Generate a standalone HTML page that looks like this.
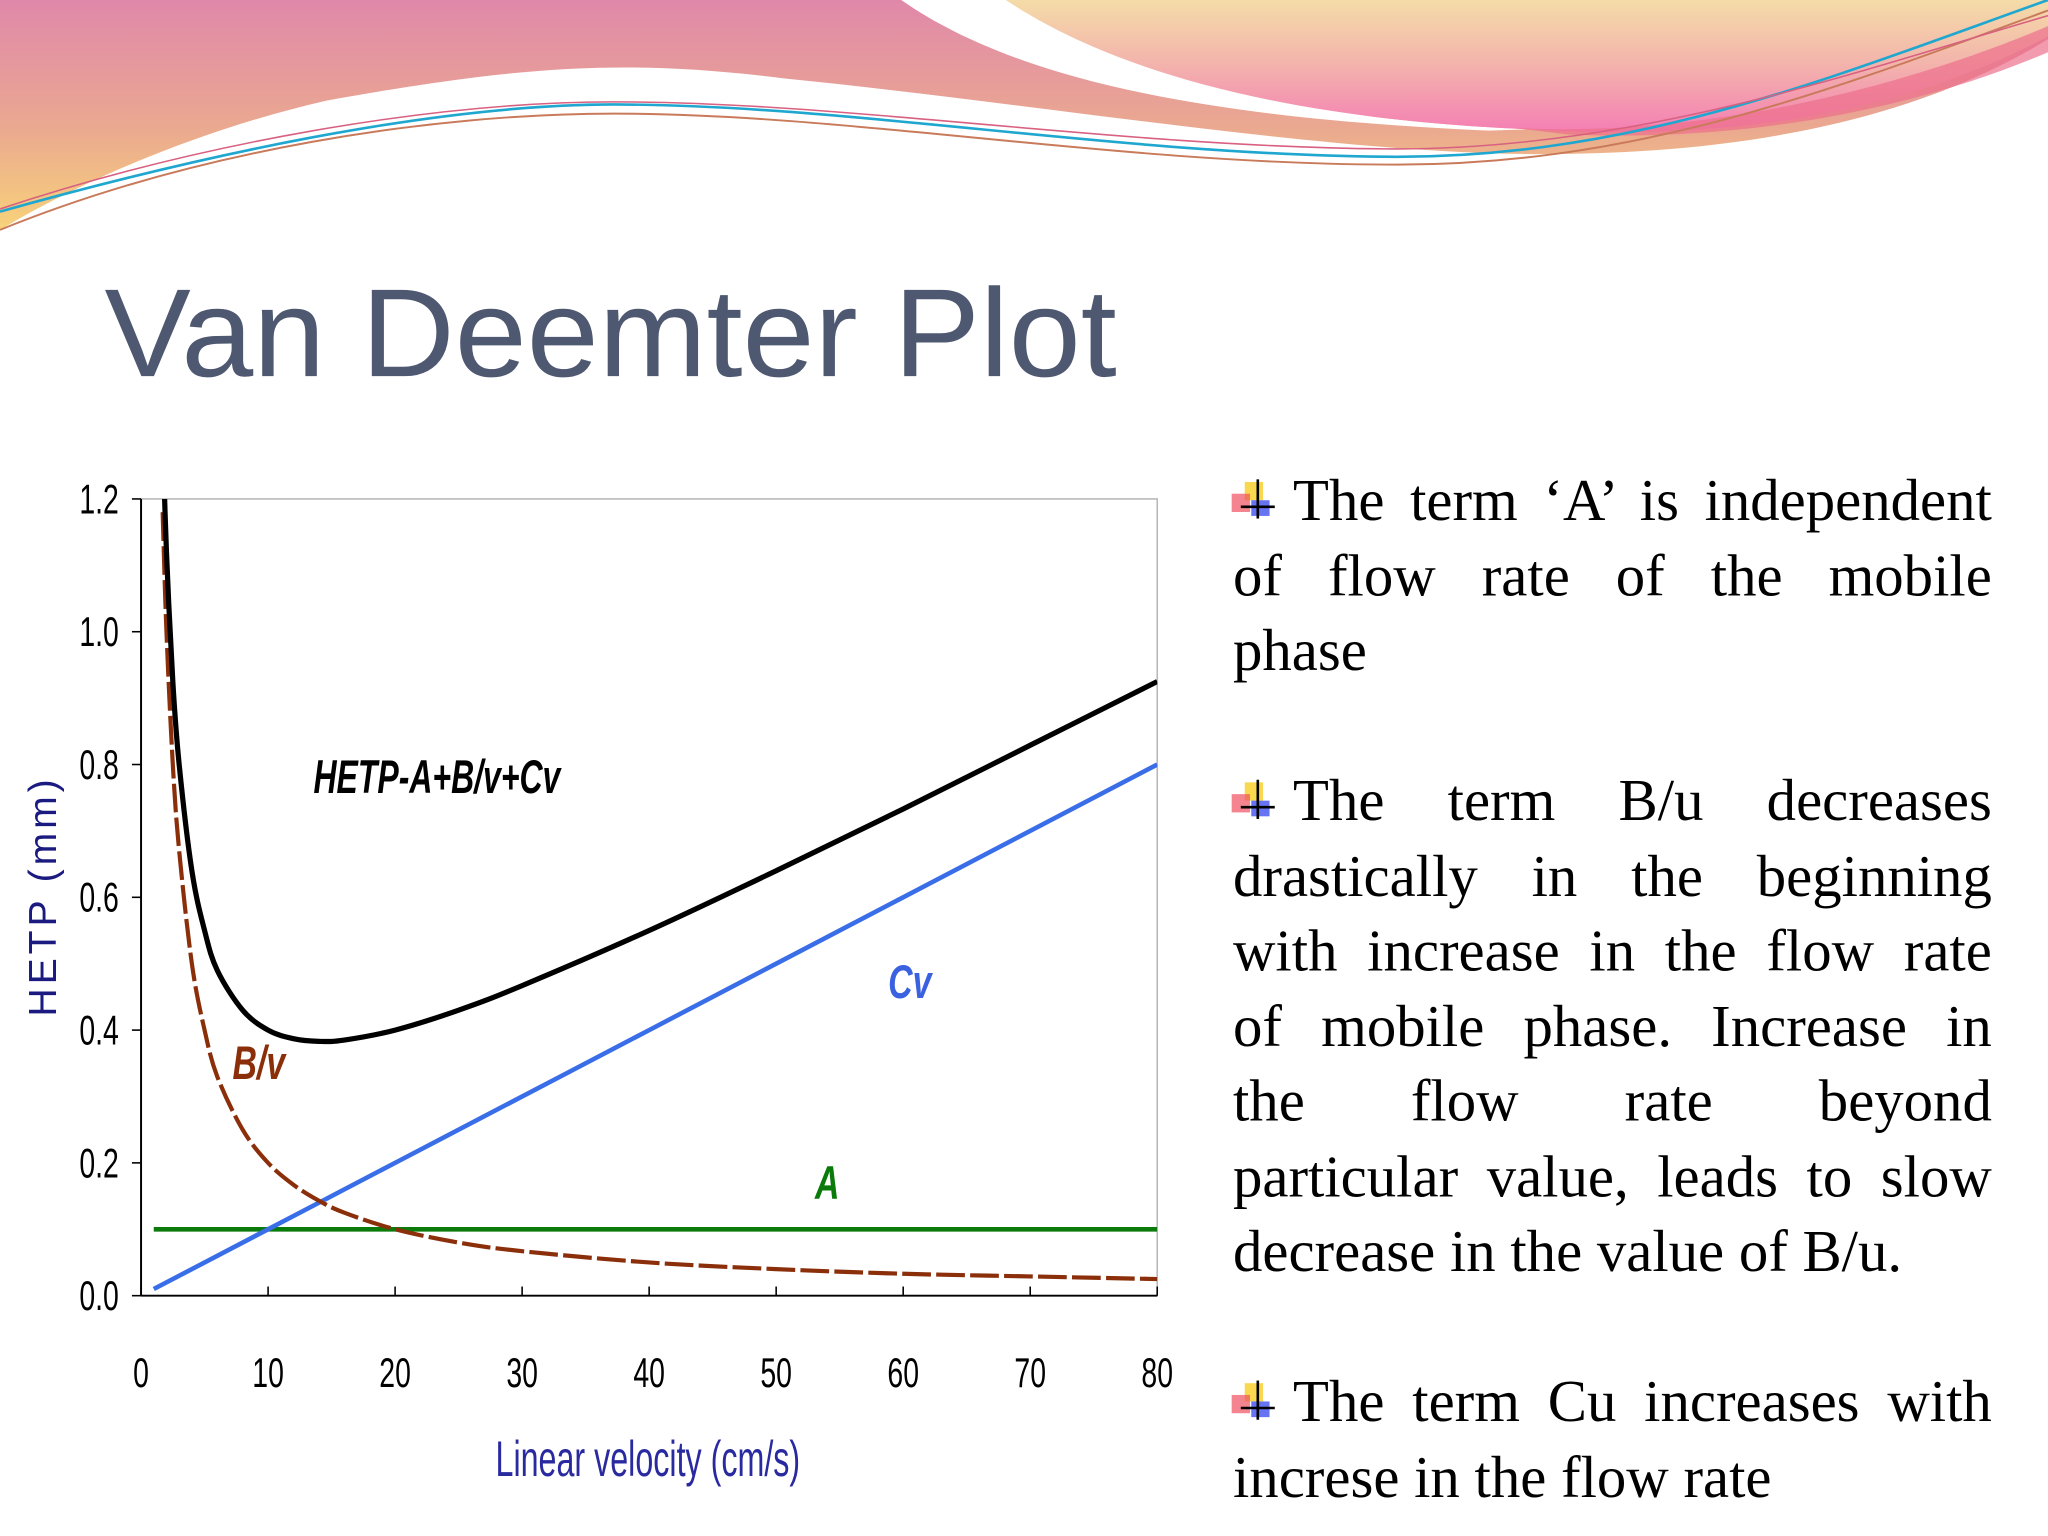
<!DOCTYPE html>
<html><head><meta charset="utf-8"><style>
html,body{margin:0;padding:0;background:#fff;}
svg{display:block}
.n{font-family:"Liberation Sans",sans-serif;}
.tx{font-family:"Liberation Serif",serif;font-size:45px;color:#000;line-height:57.5px;}
.j{text-align:justify;text-align-last:justify;white-space:nowrap;height:57.5px;}
.l{text-align:left;white-space:nowrap;height:57.5px;}
</style></head><body>
<svg id="svg" width="2048" height="1536" viewBox="0 0 1568 1176" xmlns="http://www.w3.org/2000/svg">
<defs>
<linearGradient id="gl" x1="0" y1="0" x2="0" y2="1"><stop offset="0" stop-color="#e088aa"/><stop offset="0.55" stop-color="#eaa890"/><stop offset="1" stop-color="#f8d27a"/></linearGradient>
<linearGradient id="gr" x1="0" y1="0" x2="0" y2="1"><stop offset="0" stop-color="#f4dca8"/><stop offset="0.5" stop-color="#f3b2ac"/><stop offset="1" stop-color="#f47fb4"/></linearGradient>
</defs>
<g>
<path d="M0,0 H690 C760,40 880,80 1150,97 C1300,105 1450,60 1568,0 V30 C1470,90 1340,118 1180,118 C1020,118 800,80 600,60 C480,45 400,50 250,77 C150,100 60,140 0,176 Z" fill="url(#gl)"/>
<path d="M690,0 H770 C860,60 1000,92 1170,99 L1140,100 C960,92 790,70 690,0 Z" fill="#fff"/>
<path d="M770,0 H1568 V28 C1470,80 1360,100 1250,101 C1210,102 1190,100 1170,99 C1000,92 860,60 770,0 Z" fill="url(#gr)"/>
<path d="M1160,98 C1300,105 1450,70 1568,20 V40 C1450,90 1320,108 1200,103 Z" fill="#ec6f8c" opacity="0.7"/>
<path d="M0,162 C150,120 330,80 470,80 C650,80 850,118 1060,120 C1250,122 1400,60 1568,0" fill="none" stroke="#1fa7d0" stroke-width="2"/>
<path d="M0,176 C150,115 330,87 470,87 C650,87 850,125 1060,126 C1250,128 1400,70 1568,8" fill="none" stroke="#c97a5a" stroke-width="1.5"/>
<path d="M0,160 C150,110 330,78 470,78 C650,78 850,112 1060,114 C1250,116 1420,55 1568,12" fill="none" stroke="#d86080" stroke-width="1.2"/>
</g>
<text class="n" x="80" y="288" font-size="96" fill="#4e5870" textLength="775" lengthAdjust="spacingAndGlyphs">Van Deemter Plot</text>

<g id="chart">
<rect x="108" y="382" width="778" height="610" fill="#fff" stroke="#b8b8b8" stroke-width="1.2"/>
<g id="axes"></g>
<clipPath id="cp"><rect x="108" y="382" width="778" height="610"/></clipPath>
<g id="series" clip-path="url(#cp)"></g>
<text class="n" transform="translate(43,686) rotate(-90)" text-anchor="middle" font-size="30" fill="#1a1a80" letter-spacing="3">HETP (mm)</text>
<text class="n" transform="translate(496,1130) scale(0.65,1)" text-anchor="middle" font-size="38" fill="#2a2aa0">Linear velocity (cm/s)</text>
<text class="n" transform="translate(240,607) scale(0.68,1)" font-size="36" font-weight="bold" font-style="italic" fill="#000">HETP-A+B/v+Cv</text>
<text class="n" transform="translate(178,826) scale(0.72,1)" font-size="36" font-weight="bold" font-style="italic" fill="#8b2f0a">B/v</text>
<text class="n" transform="translate(680,764) scale(0.72,1)" font-size="36" font-weight="bold" font-style="italic" fill="#3a62e0">Cv</text>
<text class="n" transform="translate(624,918) scale(0.72,1)" font-size="36" font-weight="bold" font-style="italic" fill="#0a7a0a">A</text>
</g>

<g>
<g id="bullets"></g>
<foreignObject x="944" y="355" width="581" height="820">
<div xmlns="http://www.w3.org/1999/xhtml" class="tx">
<div class="j" style="padding-left:46px">The term ‘A’ is independent</div>
<div class="j">of flow rate of the mobile</div>
<div class="l">phase</div>
<div class="l"></div>
<div class="j" style="padding-left:46px">The term B/u decreases</div>
<div class="j">drastically in the beginning</div>
<div class="j">with increase in the flow rate</div>
<div class="j">of mobile phase. Increase in</div>
<div class="j">the flow rate beyond</div>
<div class="j">particular value, leads to slow</div>
<div class="l">decrease in the value of B/u.</div>
<div class="l"></div>
<div class="j" style="padding-left:46px">The term Cu increases with</div>
<div class="l">increse in the flow rate</div>
</div>
</foreignObject>
</g>
</svg>
<script>
const velocities=[1.7,2,2.5,3,4,5,6,8,10,12,14,16,20,25,30,40,50,60,70,80];
const bvValues=[1.18,1.0,0.8,0.67,0.5,0.4,0.33,0.25,0.2,0.167,0.143,0.125,0.1,0.08,0.067,0.05,0.04,0.033,0.029,0.025];
const hetpValues=[1.30,1.12,0.925,0.80,0.64,0.55,0.49,0.43,0.40,0.387,0.383,0.385,0.40,0.43,0.467,0.55,0.64,0.733,0.829,0.925];
const cvVelocities=[1,20,40,60,80];
const cvValues=[0.01,0.20,0.40,0.60,0.80];
const aVelocities=[1,80];
const aValues=[0.1,0.1];
const xTicks=[0,10,20,30,40,50,60,70,80];
const yTicks=[0,0.2,0.4,0.6,0.8,1.0,1.2];
const yTickLabels=["0.0","0.2","0.4","0.6","0.8","1.0","1.2"];
const X=v=>108+v*(778/80);
const Y=h=>992-h*(610/1.2);
const NS="http://www.w3.org/2000/svg";
function mk(tag,attrs,parent){const e=document.createElementNS(NS,tag);for(const k in attrs)e.setAttribute(k,attrs[k]);parent.appendChild(e);return e;}
const axes=document.getElementById('axes');
mk('line',{x1:108,y1:382,x2:108,y2:992,stroke:'#000','stroke-width':1.5},axes);
mk('line',{x1:108,y1:992,x2:886,y2:992,stroke:'#000','stroke-width':1.5},axes);
xTicks.forEach(t=>{
  const l=mk('line',{x1:X(t),y1:992,x2:X(t),y2:985,stroke:'#000','stroke-width':1.2},axes);
  
  
  const tx=mk('text',{transform:`translate(${X(t)},1062) scale(0.68,1)`,'text-anchor':'middle','font-size':32,'font-family':'Liberation Sans, sans-serif',fill:'#000'},axes);
  tx.textContent=t;
  
  
});
yTicks.forEach((t,i)=>{
  const l=mk('line',{x1:101,y1:Y(t),x2:108,y2:Y(t),stroke:'#000','stroke-width':1.2},axes);
  
  
  const tx=mk('text',{transform:`translate(91,${Y(t)+11}) scale(0.68,1)`,'text-anchor':'end','font-size':32,'font-family':'Liberation Sans, sans-serif',fill:'#000'},axes);
  tx.textContent=yTickLabels[i];
  
  
});
function smooth(xs,ys){
  const p=xs.map((v,i)=>[X(v),Y(ys[i])]);
  let d=`M${p[0][0]},${p[0][1]}`;
  for(let i=0;i<p.length-1;i++){
    const p0=p[i-1]||p[i],p1=p[i],p2=p[i+1],p3=p[i+2]||p2;
    const c1=[p1[0]+(p2[0]-p0[0])/6,p1[1]+(p2[1]-p0[1])/6];
    const c2=[p2[0]-(p3[0]-p1[0])/6,p2[1]-(p3[1]-p1[1])/6];
    d+=` C${c1[0]},${c1[1]} ${c2[0]},${c2[1]} ${p2[0]},${p2[1]}`;
  }
  return d;
}
const ser=document.getElementById('series');
const a=mk('path',{d:smooth(aVelocities,aValues),fill:'none',stroke:'#0a7a0a','stroke-width':3.5},ser);


const cv=mk('path',{d:smooth(cvVelocities,cvValues),fill:'none',stroke:'#3a6ee8','stroke-width':3.5},ser);


const bv=mk('path',{d:smooth(velocities,bvValues),fill:'none',stroke:'#8b2f0a','stroke-width':3.2,'stroke-dasharray':'22,4'},ser);


const h=mk('path',{d:smooth(velocities,hetpValues),fill:'none',stroke:'#000','stroke-width':4},ser);


const bl=document.getElementById('bullets');
[383,613,1073].forEach(y=>{
  const g=mk('g',{},bl);
  
  
  mk('rect',{x:953,y:y-14,width:14,height:14,fill:'#f8d030',opacity:0.85},g);
  mk('rect',{x:943,y:y-5,width:14,height:14,fill:'#f05060',opacity:0.7},g);
  mk('rect',{x:958,y:y,width:14,height:12,fill:'#4050f0',opacity:0.8},g);
  mk('line',{x1:963,y1:y-16,x2:963,y2:y+14,stroke:'#000','stroke-width':2},g);
  mk('line',{x1:950,y1:y+5,x2:976,y2:y+5,stroke:'#000','stroke-width':2},g);
});
</script>
</body></html>
